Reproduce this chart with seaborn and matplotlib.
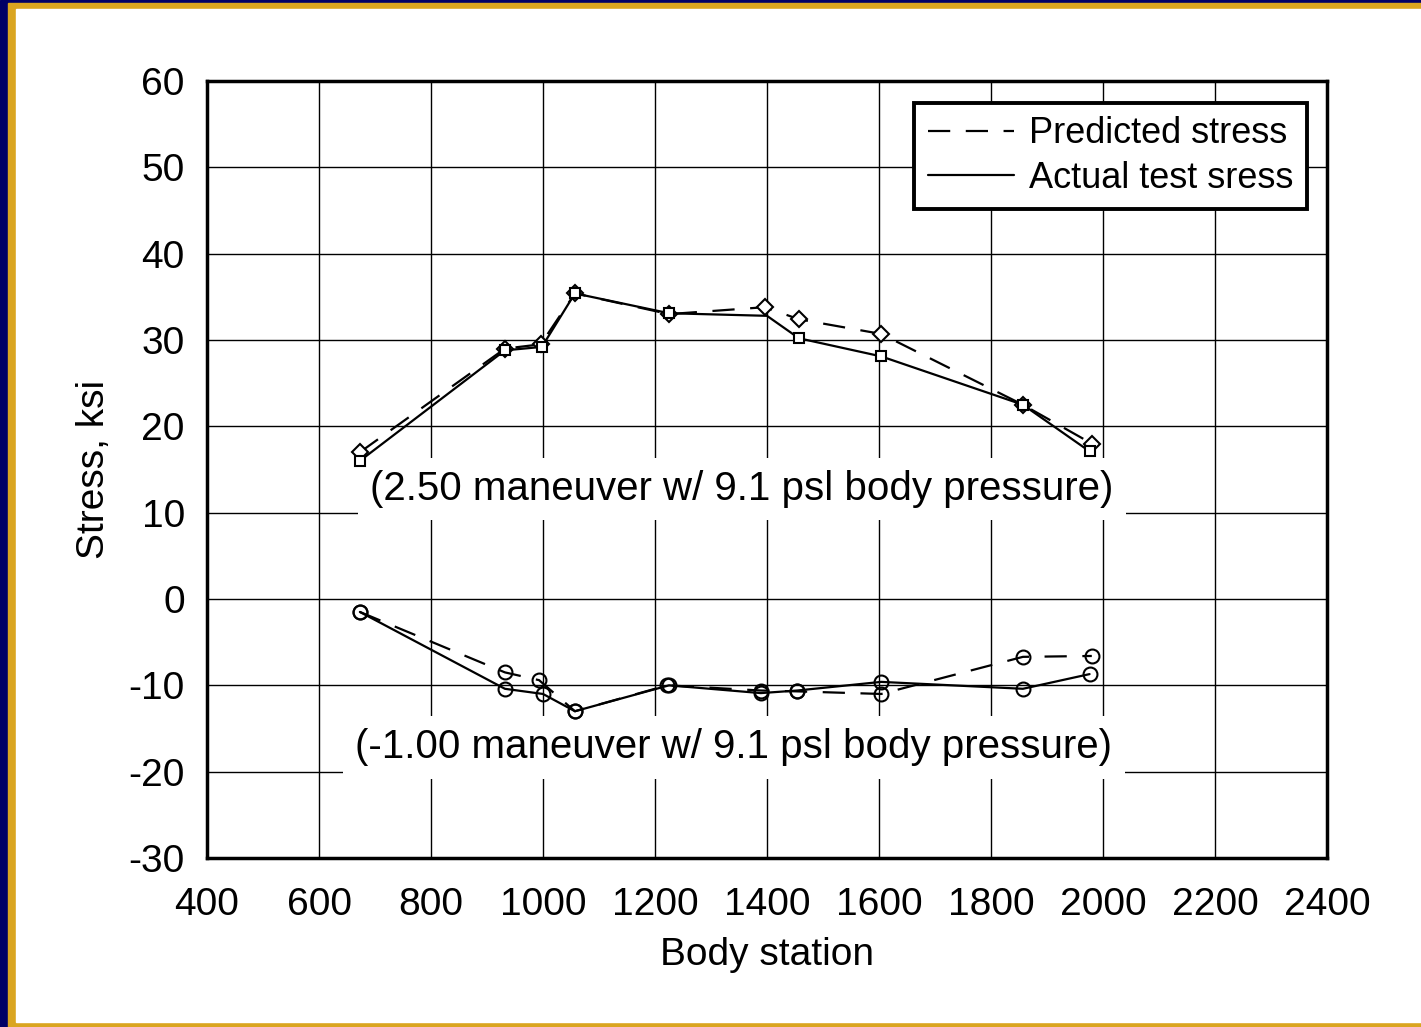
import numpy as np
import pandas as pd
import matplotlib.pyplot as plt
import seaborn as sns
from matplotlib.lines import Line2D
from matplotlib.patches import Rectangle

# upper case: 2.50 maneuver
up_pred_x = [673, 932, 996, 1057, 1225, 1396, 1457, 1604, 1857, 1980]
up_pred_y = [17.0, 29.0, 29.5, 35.4, 33.0, 33.8, 32.4, 30.7, 22.5, 18.0]
up_act_x = [673, 932, 998, 1057, 1225, 1400, 1457, 1604, 1857, 1976]
up_act_y = [16.0, 28.8, 29.2, 35.4, 33.1, 32.8, 30.2, 28.1, 22.5, 17.1]

# lower case: -1.00 maneuver
lo_pred_x = [673, 932, 993, 1057, 1222, 1389, 1454, 1604, 1857, 1980]
lo_pred_y = [-1.5, -8.5, -9.4, -13.0, -10.0, -10.6, -10.7, -11.0, -6.7, -6.6]
lo_act_x = [673, 932, 1000, 1057, 1225, 1389, 1454, 1604, 1857, 1976]
lo_act_y = [-1.5, -10.4, -11.0, -13.0, -10.0, -10.9, -10.6, -9.6, -10.4, -8.7]

labels = ["(2.50 maneuver w/ 9.1 psl body pressure)",
          "(-1.00 maneuver w/ 9.1 psl body pressure)"]
legend_names = ["Predicted stress", "Actual test sress"]

sns.set_style("white")
plt.rcParams['font.family'] = ['Liberation Sans', 'DejaVu Sans']
plt.rcParams['axes.unicode_minus'] = False
plt.rcParams['text.color'] = 'black'
plt.rcParams['axes.labelcolor'] = 'black'

fig = plt.figure(figsize=(14.21, 10.27), dpi=100)
# slide style frame
fig.patches.append(Rectangle((0, 0), 1, 1, transform=fig.transFigure, color='#000066', zorder=-3))
fig.patches.append(Rectangle((8/1421, 0), 1, 1 - 3/1027, transform=fig.transFigure, color='#DAA520', zorder=-2))
fig.patches.append(Rectangle((16/1421, 5/1027), 1, 1 - 14/1027, transform=fig.transFigure, color='white', zorder=-1))

ax = fig.add_axes([207/1421, 1 - 858/1027, 1120/1421, 777/1027])
ax.set_facecolor('white')

dash = (10, 7)
sns.lineplot(x=up_pred_x, y=up_pred_y, ax=ax, color='black', lw=1.6,
             marker='D', markersize=8, markerfacecolor='white', markeredgecolor='black',
             markeredgewidth=1.5, linestyle=(0, dash))
sns.lineplot(x=up_act_x, y=up_act_y, ax=ax, color='black', lw=1.6,
             marker='s', markersize=7, markerfacecolor='white', markeredgecolor='black',
             markeredgewidth=1.5, markevery=[0, 1, 2, 3, 4, 6, 7, 8, 9])
sns.lineplot(x=lo_pred_x, y=lo_pred_y, ax=ax, color='black', lw=1.6,
             marker='o', markersize=10, markerfacecolor='none', markeredgecolor='black',
             markeredgewidth=1.5, linestyle=(0, dash))
sns.lineplot(x=lo_act_x, y=lo_act_y, ax=ax, color='black', lw=1.6,
             marker='o', markersize=10, markerfacecolor='none', markeredgecolor='black',
             markeredgewidth=1.5)

ax.set_xlim(400, 2400)
ax.set_ylim(-30, 60)
ax.set_xticks(np.arange(400, 2401, 200))
ax.set_yticks(np.arange(-30, 61, 10))
ax.grid(True, color='black', lw=1.0)
ax.set_axisbelow(True)
for s in ax.spines.values():
    s.set_visible(True)
    s.set_color('black')
    s.set_linewidth(2.5)
ax.tick_params(axis='both', labelsize=28, length=0, colors='black')
ax.tick_params(axis='x', pad=21)
ax.tick_params(axis='y', pad=16)
ax.set_xlabel("Body station", fontsize=28, labelpad=10)
ax.set_ylabel("Stress, ksi", fontsize=28, labelpad=12)

ax.text(1355, 12.7, labels[0], fontsize=29, ha='center', va='center', zorder=1.5,
        bbox=dict(boxstyle='square,pad=0.3', fc='white', ec='none'))
ax.text(1341, -17.2, labels[1], fontsize=29, ha='center', va='center', zorder=1.5,
        bbox=dict(boxstyle='square,pad=0.3', fc='white', ec='none'))

handles = [Line2D([], [], color='black', lw=1.6, linestyle=(0, dash)),
           Line2D([], [], color='black', lw=1.6)]
leg = ax.legend(handles, legend_names, loc='upper right', bbox_to_anchor=(0.982, 0.972),
                fontsize=26, frameon=True, fancybox=False, handlelength=2.4,
                handletextpad=0.4, borderpad=0.38, labelspacing=0.25, borderaxespad=0)
leg.get_frame().set_edgecolor('black')
leg.get_frame().set_linewidth(2.8)
leg.get_frame().set_alpha(1)

fig.savefig("out.png", dpi=100)
